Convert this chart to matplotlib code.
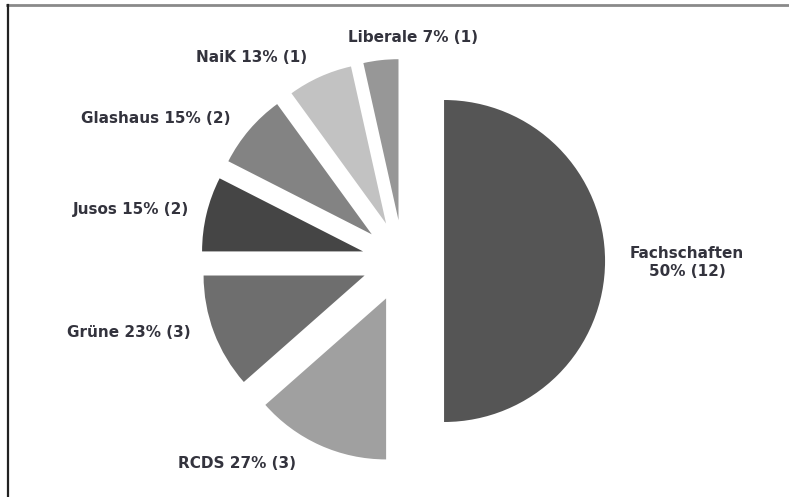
import matplotlib.pyplot as plt
from matplotlib.lines import Line2D

# seat distribution
parties = ['Fachschaften', 'RCDS', 'Grüne', 'Jusos', 'Glashaus', 'NaiK', 'Liberale']
shares = [50, 13.5, 11.5, 7.5, 7.5, 6.5, 3.5]   # slice sizes as drawn
pct_labels = [50, 27, 23, 15, 15, 13, 7]         # percentages printed in labels
seats = [12, 3, 3, 2, 2, 1, 1]
colors = ['#555555', '#a0a0a0', '#6e6e6e', '#454545', '#838383', '#c2c2c2', '#979797']

# label anchors (data units, radius = 1) and alignment
label_pos = [(1.765, -0.01), (-1.03, -1.255), (-1.32, -0.447), (-1.33, 0.317),
             (-1.07, 0.888), (-0.938, 1.267), (0.062, 1.391)]
label_ha = ['center', 'center', 'right', 'right', 'right', 'center', 'center']

fig = plt.figure(figsize=(7.89, 4.97), dpi=100)
ax = fig.add_axes([0, 0, 1, 1])

ax.pie(shares, colors=colors, startangle=90, counterclock=False,
       explode=[0.255] * len(shares), wedgeprops=dict(linewidth=0))

for i, name in enumerate(parties):
    if name == 'Fachschaften':
        txt = f'{name}\n{pct_labels[i]}% ({seats[i]})'
    else:
        txt = f'{name} {pct_labels[i]}% ({seats[i]})'
    ax.text(label_pos[i][0], label_pos[i][1], txt, ha=label_ha[i], va='center',
            fontsize=11, fontweight='bold', color='#33333d', linespacing=1.25,
            multialignment='center')

# pie centre at (403, 261) px, radius 161 px
ax.set_xlim(-403 / 161, (789 - 403) / 161)
ax.set_ylim(-(497 - 261) / 161, 261 / 161)
ax.axis('off')

# frame lines of the original screenshot
fig.add_artist(Line2D([7 / 789, 1], [1 - 5 / 497, 1 - 5 / 497], color='#8a8a8a', lw=2))
fig.add_artist(Line2D([8 / 789, 8 / 789], [0, 1 - 5 / 497], color='#222222', lw=1.6))

fig.savefig('out.png', dpi=100)
